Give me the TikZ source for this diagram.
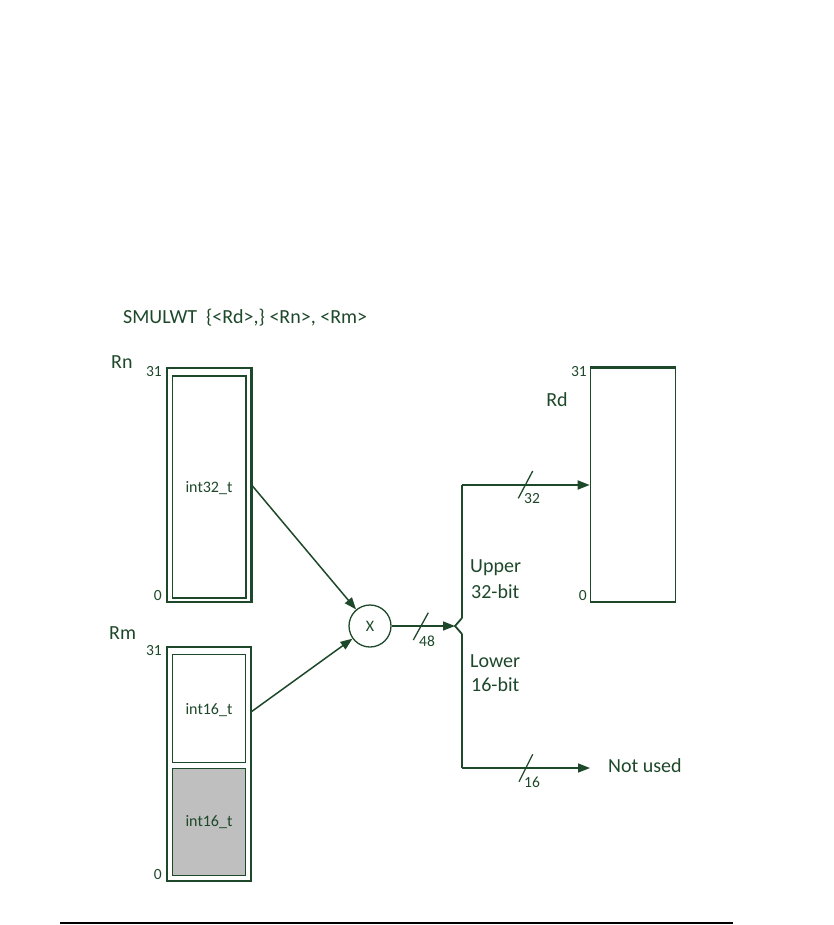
\documentclass[tikz,border=0pt]{standalone}
\usepackage{fontspec}
\setmainfont{Carlito}
\usetikzlibrary{arrows.meta}
\definecolor{dg}{RGB}{30,72,42}
\definecolor{shade}{RGB}{191,191,191}
\tikzset{
  big/.style={font=\fontsize{20}{22}\selectfont, text=dg, inner sep=0pt},
  mid/.style={font=\fontsize{16}{18}\selectfont, text=dg, inner sep=0pt},
  small/.style={font=\fontsize{15.5}{17}\selectfont, text=dg, inner sep=0pt},
  regbox/.style={draw=dg, line width=1.3pt, inner sep=0pt},
  conn/.style={draw=dg, line width=1.5pt, -{Triangle[length=12pt,width=9pt]}},
  wire/.style={draw=dg, line width=1.8pt},
  slash/.style={draw=dg, line width=1.3pt}
}
\begin{document}
\begin{tikzpicture}[x=1pt,y=-1pt]
\useasboundingbox (0,0) rectangle (834,925);
% title
\node[big, anchor=west] (title) at (123,318) {SMULWT\ \ \{<Rd>,\} <Rn>, <Rm>};
% Rn
\node[big, anchor=west] (rnlab) at (111,362) {Rn};
\node[regbox, minimum width=84pt, minimum height=234pt] (rnout) at (209,485) {};
\draw[dg, line width=2.2pt] (rnout.north east) -- (rnout.south east);
\node[regbox, line width=1.1pt, minimum width=73pt, minimum height=222pt] (rnin) at (208.6,487) {};
\draw[dg, line width=1.8pt] (rnin.north east) -- (rnin.south east);
\node[mid] (rntxt) at (209,488) {int32\_t};
\node[small, anchor=east] (rn31) at (162,372) {31};
\node[small, anchor=east] (rn0) at (162,596) {0};
% Rm
\node[big, anchor=west] (rmlab) at (109,633) {Rm};
\node[regbox, minimum width=84pt, minimum height=234pt] (rmout) at (209,764) {};
\node[regbox, line width=1.1pt, minimum width=73pt, minimum height=108pt] (rmtop) at (208.6,708.3) {};
\node[regbox, line width=1.1pt, fill=shade, minimum width=73pt, minimum height=107pt] (rmbot) at (208.6,821.8) {};
\node[mid] (rmtxt1) at (209,710) {int16\_t};
\node[mid] (rmtxt2) at (209,822.5) {int16\_t};
\node[small, anchor=east] (rm31) at (162,651) {31};
\node[small, anchor=east] (rm0) at (162,875) {0};
% multiplier
\node[draw=dg, line width=1.3pt, circle, minimum size=42pt, inner sep=0pt, mid] (mul) at (370,626) {X};
\coordinate (rmout) at (251,712);
\draw[conn] (rnout.east) -- (mul);
\draw[conn] (rmout) -- (mul);
% branch
\coordinate (br) at (455,626);
\coordinate (topc) at (462,485);
\coordinate (k1) at (462,618);
\coordinate (k2) at (462,634);
\coordinate (botc) at (462,768);
\coordinate (nu) at (590,768);
\draw[conn] (mul.east) -- (br);
\draw[wire, line join=miter] (k1) -- (br) -- (k2);
\draw[wire] (topc) -- (k1);
\draw[wire] (k2) -- (botc);
% Rd
\node[regbox, minimum width=85pt, minimum height=234pt] (rd) at (632.8,485) {};
\draw[dg, line width=2.2pt] (rd.north west) -- (rd.north east);
\node[big] (rdlab) at (557,400) {Rd};
\node[small, anchor=east] (rd31) at (587,372) {31};
\node[small, anchor=east] (rd0) at (587,596) {0};
\draw[conn, line width=1.8pt] (topc) -- (rd.west);
\draw[conn] (botc) -- (nu);
\node[big, anchor=west] (nulab) at (608,766) {Not used};
% slashes
\draw[slash] (413.3,640) -- (428.3,612.7);
\node[small, anchor=west] (w48) at (419,641) {48};
\draw[slash] (518.3,498.3) -- (532.7,471);
\node[small, anchor=west] (w32) at (524,499) {32};
\draw[slash] (519,781.7) -- (532.7,754.3);
\node[small, anchor=west] (w16) at (524,782.5) {16};
% branch labels
\node[big, anchor=west] (up1) at (470,568) {Upper};
\node[big, anchor=west] (up2) at (471,591.5) {32-bit};
\node[big, anchor=west] (lo1) at (470,661.5) {Lower};
\node[big, anchor=west] (lo2) at (471,685) {16-bit};
% footer rule
\coordinate (fl) at (60,922.5);
\coordinate (fr) at (733,922.5);
\draw[black, line width=2pt] (fl) -- (fr);
\end{tikzpicture}
\end{document}
